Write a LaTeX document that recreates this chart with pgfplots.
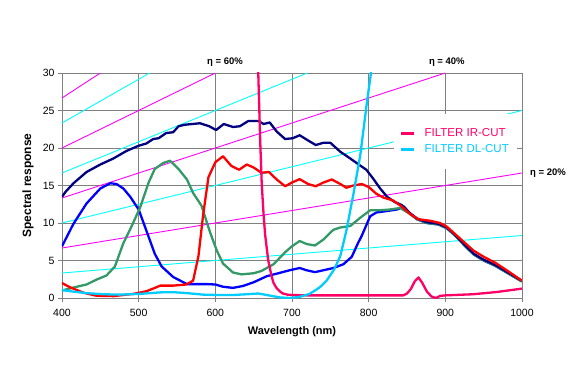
\documentclass[border=0pt]{standalone}
\usepackage{pgfplots}
\pgfplotsset{compat=1.18}
\usepackage{fontspec}
\setmainfont{Liberation Sans}
\definecolor{navyc}{RGB}{0,0,128}
\definecolor{bluec}{RGB}{0,0,255}
\definecolor{greenc}{RGB}{51,153,102}
\definecolor{redc}{RGB}{255,0,0}
\definecolor{ircut}{RGB}{255,0,102}
\definecolor{dlcut}{RGB}{0,204,255}
\definecolor{magline}{RGB}{255,0,255}
\definecolor{cyanline}{RGB}{0,255,255}
\definecolor{gridc}{RGB}{128,128,128}
\begin{document}
\begin{tikzpicture}
\path[use as bounding box] (-62bp,-84bp) rectangle (515bp,298bp);
\begin{axis}[
  at={(0,0)}, anchor=south west,
  width=460bp, height=225bp, scale only axis,
  xmin=400, xmax=1000, ymin=0, ymax=30,
  xtick={400,500,...,1000}, ytick={0,5,...,30},
  xtick pos=left, ytick pos=left,
  grid=major, grid style={draw=gridc, line width=0.9bp},
  axis line style={draw=gridc, line width=0.9bp},
  tick style={draw=gridc, line width=0.9bp},
  tick align=outside, major tick length=4bp,
  ticklabel style={font=\fontsize{10.5bp}{12bp}\selectfont},
  xticklabel style={yshift=-3.5bp},
  /pgf/number format/assume math mode=true,
  /pgf/number format/1000 sep={},
  xlabel={Wavelength (nm)}, ylabel={Spectral response},
  xlabel style={font=\fontsize{11bp}{13bp}\selectfont\bfseries, at={(axis description cs:0.5,-0.1511)}, anchor=center},
  ylabel style={font=\fontsize{12bp}{14bp}\selectfont\bfseries, at={(axis description cs:-0.0739,0.5)}, anchor=center},
  clip mode=individual,
  line join=round,
  legend style={draw=none, fill=white, at={(0.7217,0.818)}, anchor=north west,
    inner xsep=6bp, inner ysep=12.5bp, font=\fontsize{11.5bp}{13bp}\selectfont,
    row sep=2.5bp, column sep=7bp, cells={anchor=west}},
  legend image code/.code={\draw[#1, line width=2.5bp] (0bp,0bp) -- (13bp,0bp);},
]
% iso-efficiency lines (magenta: 20,40,60,80 %)
\addplot[magline, line width=0.9bp, forget plot] coordinates {(400,6.667) (1000,16.667)};
\addplot[magline, line width=0.9bp, forget plot] coordinates {(400,13.333) (900,30)};
\addplot[magline, line width=0.9bp, forget plot] coordinates {(400,20) (600,30)};
\addplot[magline, line width=0.9bp, forget plot] coordinates {(400,26.667) (450,30)};
% iso-efficiency lines (cyan: 10,30,50,70 %)
\addplot[cyanline, line width=0.9bp, forget plot] coordinates {(400,3.333) (1000,8.333)};
\addplot[cyanline, line width=0.9bp, forget plot] coordinates {(400,10) (1000,25)};
\addplot[cyanline, line width=0.9bp, forget plot] coordinates {(400,16.667) (720,30)};
\addplot[cyanline, line width=0.9bp, forget plot] coordinates {(400,23.333) (514.29,30)};
% blue channel
\addplot[bluec, line width=2.3bp, forget plot] coordinates {
(400,6.9) (415,9.9) (432,12.6) (450,14.6) (463,15.3) (471,15.2) (480,14.6) (489,13.5)
(500,11.8) (510,9.0) (521,5.9) (530,4.2) (545,2.8) (563,1.85) (589,1.85) (600,1.8)
(610,1.5) (623,1.35) (636,1.6) (650,2.1) (667,2.9) (684,3.35) (697,3.7) (710,4.0)
(719,3.7) (730,3.45) (741,3.7) (754,4.0) (767,4.5) (778,5.5) (786,7.3) (791,8.3)
(802,10.9) (810,11.4) (824,11.6) (837,11.8) (846,12.2) (854,11.25) (863,10.5) (876,10.0)
(891,9.8) (902,9.3) (913,8.3) (926,6.9) (937,5.8) (950,5.0) (965,4.3) (980,3.4) (1000,2.2)};
% green channel
\addplot[greenc, line width=2.3bp, forget plot] coordinates {
(400,1.0) (415,1.4) (432,1.8) (445,2.45) (458,3.0) (469,4.2) (480,7.3) (491,9.6)
(502,12.1) (513,15.4) (521,17.2) (532,18.0) (541,18.3) (552,17.2) (563,15.8) (571,14.0)
(582,12.3) (593,8.8) (602,6.3) (610,4.6) (623,3.4) (634,3.15) (650,3.3) (660,3.6)
(676,4.5) (691,6.1) (700,6.9) (710,7.6) (719,7.2) (730,7.0) (741,7.8) (754,9.1)
(763,9.4) (776,9.6) (789,10.7) (802,11.7) (815,11.7) (828,11.8) (841,12.0) (854,11.2)
(863,10.5) (876,10.0) (891,9.8) (902,9.3) (913,8.3) (926,6.9) (937,5.8) (950,5.0)
(965,4.3) (980,3.4) (1000,2.2)};
% navy (monochrome)
\addplot[navyc, line width=2.3bp, forget plot] coordinates {
(400,13.5) (405,14.2) (415,15.3) (432,16.8) (450,17.8) (467,18.6) (484,19.6) (500,20.3)
(510,20.6) (519,21.2) (526,21.3) (536,22.0) (545,22.1) (552,22.9) (560,23.1) (580,23.3)
(592,22.9) (601,22.4) (611,23.2) (623,22.8) (632,22.9) (643,23.6) (656,23.6) (663,23.2)
(671,23.4) (680,22.2) (691,21.2) (701,21.3) (710,21.7) (721,21.0) (731,20.4) (741,20.7)
(750,20.7) (763,19.5) (776,18.6) (787,17.8) (797,17.1) (806,15.9) (815,14.6) (824,13.5)
(834,12.8) (843,12.4) (854,11.3) (863,10.6) (876,10.1) (891,9.9) (902,9.4) (913,8.4)
(926,7.0) (937,5.9) (950,5.1) (965,4.4) (980,3.5) (1000,2.3)};
% red channel
\addplot[redc, line width=2.3bp, forget plot] coordinates {
(400,2.0) (410,1.45) (428,0.7) (445,0.3) (467,0.25) (493,0.55) (510,0.9) (520,1.3)
(528,1.65) (545,1.65) (562,1.8) (571,2.3) (578,5.6) (584,11.0) (591,16.1) (600,18.1)
(610,18.9) (621,17.6) (631,17.1) (641,17.8) (650,17.4) (660,16.7) (670,16.8) (680,15.8)
(691,14.9) (700,15.4) (710,15.85) (721,15.2) (731,14.9) (741,15.4) (752,15.8) (763,15.2)
(771,14.7) (780,15.0) (791,15.2) (800,14.8) (810,13.9) (819,13.4) (832,13.0) (843,12.2)
(854,11.2) (865,10.5) (880,10.3) (893,10.0) (902,9.5) (913,8.5) (926,7.3) (937,6.3)
(950,5.5) (965,4.7) (980,3.7) (1000,2.3)};
% filters
\addplot[ircut, line width=2.3bp] coordinates {
(655.7,31) (656,30) (658.5,21) (660.5,15.3) (663,11) (665,8.4) (669,5.0) (673.5,2.85)
(676,2.0) (680,1.3) (684,0.9) (688,0.6) (694,0.45) (700,0.4) (720,0.35) (845,0.35)
(850,0.6) (855,1.2) (860,2.2) (865,2.75) (870,2.0) (876,0.85) (882,0.2) (888,0.0)
(893,0.28) (900,0.35) (936,0.5) (967,0.8) (1000,1.25)};
\addlegendentry{\textcolor{ircut}{FILTER IR-CUT}}
\addplot[dlcut, line width=2.3bp] coordinates {
(400,1.05) (415,0.85) (432,0.65) (454,0.5) (475,0.45) (502,0.55) (528,0.75) (545,0.78)
(563,0.65) (584,0.45) (604,0.4) (623,0.4) (641,0.5) (656,0.6) (667,0.4) (684,0.08)
(697,0.0) (710,0.15) (723,0.55) (736,1.4) (745,2.3) (755,3.8) (763,5.6) (771,9.0)
(780,13.8) (789,19.0) (797,25.5) (803,30) (803.6,31)};
\addlegendentry{\textcolor{dlcut}{FILTER DL-CUT}}
\node[font=\fontsize{9.5bp}{10bp}\selectfont\bfseries] at (axis cs:612.6,31.47) {η = 60\%};
\node[font=\fontsize{9.5bp}{10bp}\selectfont\bfseries] at (axis cs:902,31.47) {η = 40\%};
\node[font=\fontsize{9.5bp}{10bp}\selectfont\bfseries] at (axis cs:1034,16.7) {η = 20\%};
\end{axis}
\end{tikzpicture}
\end{document}
